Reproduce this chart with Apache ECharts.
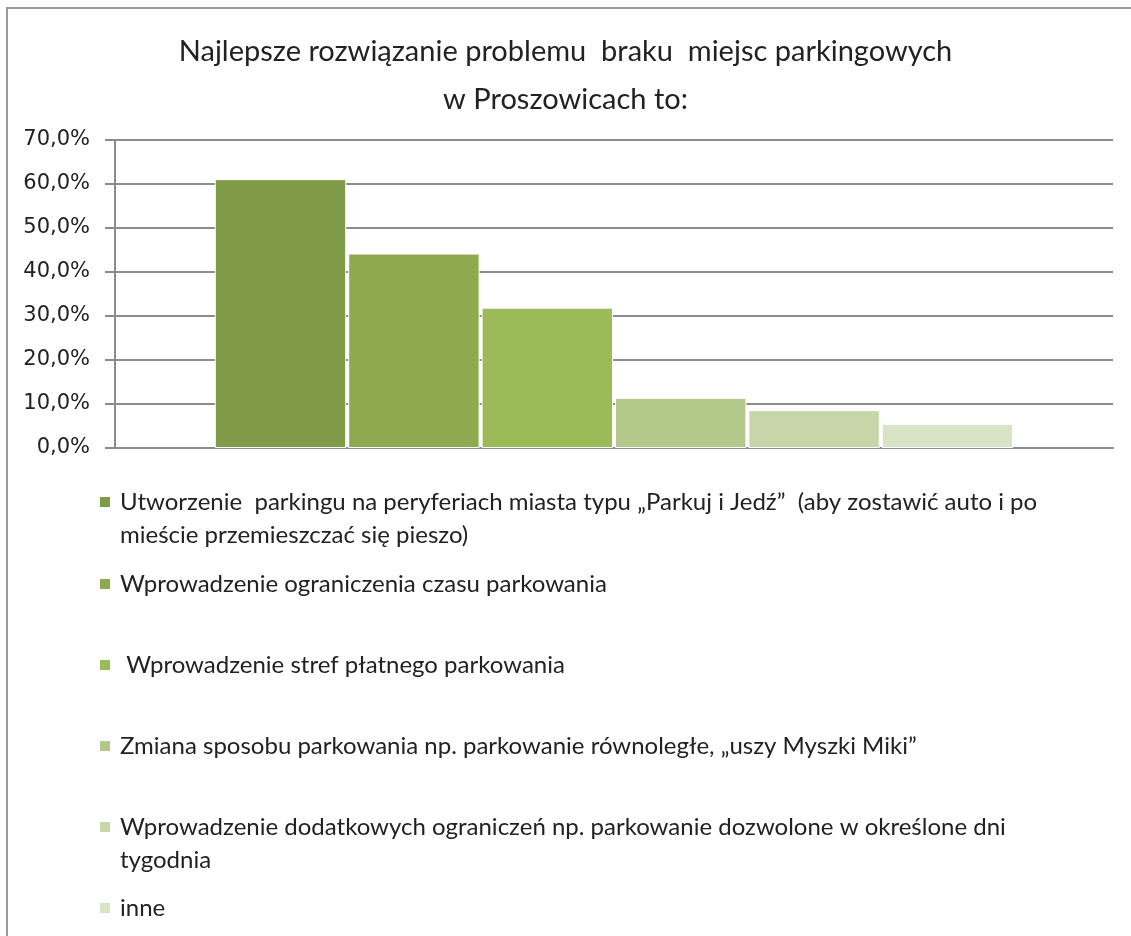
<!DOCTYPE html>
<html>
<head>
<meta charset="utf-8">
<script src="https://cdn.jsdelivr.net/npm/echarts@6/dist/echarts.min.js"></script>
<style>
  html, body { margin: 0; padding: 0; background: #fff; }
  #main { width: 1131px; height: 936px; }
</style>
</head>
<body>
<div id="main"></div>
<script>
var titleText = 'Najlepsze rozwiązanie problemu  braku  miejsc parkingowych\nw Proszowicach to:';

var categories = [''];

var seriesNames = [
  'Utworzenie  parkingu na peryferiach miasta typu „Parkuj i Jedź”  (aby zostawić auto i po\nmieście przemieszczać się pieszo)',
  'Wprowadzenie ograniczenia czasu parkowania',
  ' Wprowadzenie stref płatnego parkowania',
  'Zmiana sposobu parkowania np. parkowanie równoległe, „uszy Myszki Miki”',
  'Wprowadzenie dodatkowych ograniczeń np. parkowanie dozwolone w określone dni\ntygodnia',
  'inne'
];

var seriesValues = [61.1, 44.2, 31.9, 11.4, 8.6, 5.5];

var yTicks = [0, 10, 20, 30, 40, 50, 60, 70];

var colors = ['#7f9b48', '#8eaa51', '#9bbb59', '#b2c98b', '#c6d6a9', '#d8e4c5'];

// centre of the first text line of each legend row
var legendCentres = [502, 584, 665, 746, 827, 908];
var LH = 33;

init();

function init(){
  var myChart = echarts.init(document.getElementById('main'));

  var series = seriesNames.map(function(name, i){
    return {
      name: name,
      type: 'bar',
      data: [seriesValues[i]],
      barGap: '1.5%',
      barCategoryGap: '20%',
      itemStyle: { color: colors[i], borderColor: '#fff', borderWidth: 1 }
    };
  });

  // two-line rows: tall icon box with the square kept next to the first line
  var tallIcon = 'path://M0,0L0.01,0M0,' + (LH / 2 - 5) + 'L10,' + (LH / 2 - 5) +
    'L10,' + (LH / 2 + 5) + 'L0,' + (LH / 2 + 5) + 'ZM0,' + (2 * LH) + 'L0.01,' + (2 * LH);

  var legends = seriesNames.map(function(name, i){
    var twoLines = name.indexOf('\n') >= 0;
    return {
      data: [name],
      orient: 'vertical',
      left: 100,
      top: legendCentres[i] - LH / 2,
      padding: 0,
      icon: twoLines ? tallIcon : 'rect',
      itemWidth: 10,
      itemHeight: twoLines ? 2 * LH : 10,
      itemGap: 0,
      selectedMode: false,
      itemStyle: { borderWidth: 0 },
      textStyle: {
        fontFamily: 'Lato',
        fontSize: 24,
        color: '#222',
        lineHeight: LH,
        padding: [0, 0, 0, 5]
      }
    };
  });

  var option = {
    backgroundColor: '#fff',
    animation: false,
    color: colors,
    title: {
      text: titleText,
      left: 'center',
      top: 28,
      padding: 0,
      textStyle: {
        fontFamily: 'Lato',
        fontSize: 29,
        fontWeight: 'normal',
        color: '#222',
        lineHeight: 48
      }
    },
    graphic: [{
      type: 'rect',
      shape: { x: 7, y: 8, width: 1300, height: 1100 },
      style: { fill: 'none', stroke: '#9a9a9a', lineWidth: 2 },
      silent: true
    }],
    legend: legends,
    grid: { left: 115, right: 18, top: 140, bottom: 488 },
    xAxis: {
      type: 'category',
      data: categories,
      axisLine: { show: true, lineStyle: { color: '#8c8c8c', width: 2 } },
      axisTick: { show: false },
      axisLabel: { show: false }
    },
    yAxis: {
      type: 'value',
      min: yTicks[0],
      max: yTicks[yTicks.length - 1],
      interval: 10,
      axisLine: { show: true, lineStyle: { color: '#8c8c8c', width: 2 } },
      axisTick: { show: true, length: 10, lineStyle: { color: '#8c8c8c', width: 2 } },
      splitLine: { show: true, lineStyle: { color: '#8c8c8c', width: 2 } },
      axisLabel: {
        fontFamily: 'DejaVu Sans',
        fontSize: 21,
        color: '#222',
        margin: 25,
        formatter: function(v){ return v.toFixed(1).replace('.', ',') + '%'; }
      }
    },
    series: series
  };
  myChart.setOption(option);
}
</script>
</body>
</html>
